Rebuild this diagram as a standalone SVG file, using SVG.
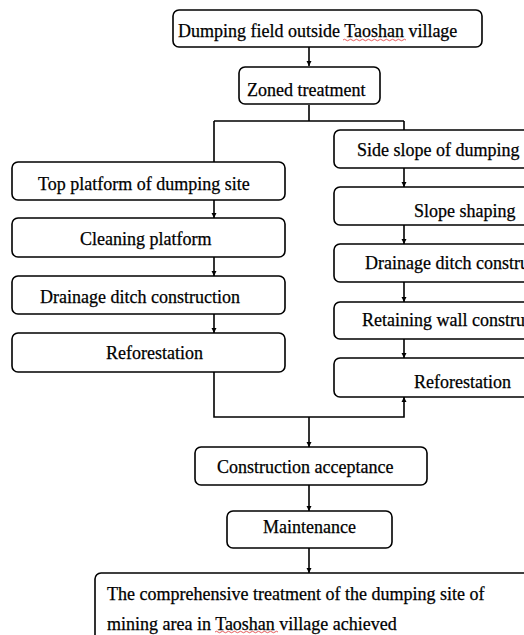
<svg xmlns="http://www.w3.org/2000/svg" width="524" height="635" viewBox="0 0 524 635">
<defs>
<style>
.box{fill:#fff;stroke:#000;stroke-width:1.6}
.t{font-family:'Liberation Serif','Times New Roman',serif;font-size:18px;fill:#000;stroke:#000;stroke-width:0.25}
.c{fill:none;stroke:#000;stroke-width:1.6}
.sq{fill:none;stroke:#e03030;stroke-width:0.8}
</style>
<marker id="ah" markerWidth="6" markerHeight="6" refX="5" refY="3" orient="auto" markerUnits="userSpaceOnUse">
<path d="M0,0.5 L5,3 L0,5.5 Z" fill="#000"/>
</marker>
</defs>
<rect width="524" height="635" fill="#fff"/>
<g id="connectors">
<path class="c" d="M309,47 V66" marker-end="url(#ah)"/>
<path class="c" d="M309,105 V121 M214,121 H404 M214,121 V162 M404,121 V130"/>
<path class="c" d="M214,200 V218" marker-end="url(#ah)"/>
<path class="c" d="M214,257 V276" marker-end="url(#ah)"/>
<path class="c" d="M214,314 V333" marker-end="url(#ah)"/>
<path class="c" d="M404,168 V187" marker-end="url(#ah)"/>
<path class="c" d="M404,225 V244" marker-end="url(#ah)"/>
<path class="c" d="M404,282 V302" marker-end="url(#ah)"/>
<path class="c" d="M404,339 V358" marker-end="url(#ah)"/>
<path class="c" d="M214,372 V417 H404 V397" marker-end="url(#ah)"/>
<path class="c" d="M309,417 V447" marker-end="url(#ah)"/>
<path class="c" d="M309,485 V511" marker-end="url(#ah)"/>
<path class="c" d="M309,548 V573" marker-end="url(#ah)"/>
</g>
<g id="n1"><rect class="box" x="173" y="10" width="309" height="37" rx="6"/><text class="t" x="178" y="37">Dumping field outside Taoshan village</text><path class="sq" d="M343,40 q1.5,-1.5 3,0 t3,0 t3,0 t3,0 t3,0 t3,0 t3,0 t3,0 t3,0 t3,0 t3,0 t3,0 t3,0 t3,0 t3,0 t3,0 t3,0 t3,0 t3,0 t3,0 t3,0"/></g>
<g id="n2"><rect class="box" x="239" y="67" width="141" height="37" rx="6"/><text class="t" x="247" y="96">Zoned treatment</text></g>
<g id="n3"><rect class="box" x="12" y="162" width="273" height="38" rx="6"/><text class="t" x="38" y="190">Top platform of dumping site</text></g>
<g id="n4"><rect class="box" x="12" y="218" width="273" height="39" rx="6"/><text class="t" x="80" y="245">Cleaning platform</text></g>
<g id="n5"><rect class="box" x="12" y="276" width="273" height="38" rx="6"/><text class="t" x="40" y="303">Drainage ditch construction</text></g>
<g id="n6"><rect class="box" x="12" y="333" width="273" height="39" rx="6"/><text class="t" x="106" y="359">Reforestation</text></g>
<g id="n7"><rect class="box" x="334" y="130" width="200" height="38" rx="6"/><text class="t" x="357" y="156">Side slope of dumping</text></g>
<g id="n8"><rect class="box" x="334" y="187" width="200" height="38" rx="6"/><text class="t" x="414" y="217">Slope shaping</text></g>
<g id="n9"><rect class="box" x="334" y="244" width="200" height="38" rx="6"/><text class="t" x="365" y="269">Drainage ditch constru</text></g>
<g id="n10"><rect class="box" x="334" y="302" width="200" height="37" rx="6"/><text class="t" x="362" y="326">Retaining wall constru</text></g>
<g id="n11"><rect class="box" x="334" y="358" width="200" height="39" rx="6"/><text class="t" x="414" y="388">Reforestation</text></g>
<g id="n12"><rect class="box" x="195" y="447" width="232" height="38" rx="6"/><text class="t" x="217" y="473">Construction acceptance</text></g>
<g id="n13"><rect class="box" x="227" y="511" width="165" height="37" rx="6"/><text class="t" x="263" y="533">Maintenance</text></g>
<g id="n14"><rect class="box" x="95" y="573" width="440" height="80" rx="6"/><text class="t" x="107" y="600">The comprehensive treatment of the dumping site of</text><text class="t" x="107" y="630">mining area in Taoshan village achieved</text><path class="sq" d="M215,632 q1.5,-1.5 3,0 t3,0 t3,0 t3,0 t3,0 t3,0 t3,0 t3,0 t3,0 t3,0 t3,0 t3,0 t3,0 t3,0 t3,0 t3,0 t3,0 t3,0 t3,0 t3,0 t3,0"/></g>
</svg>
